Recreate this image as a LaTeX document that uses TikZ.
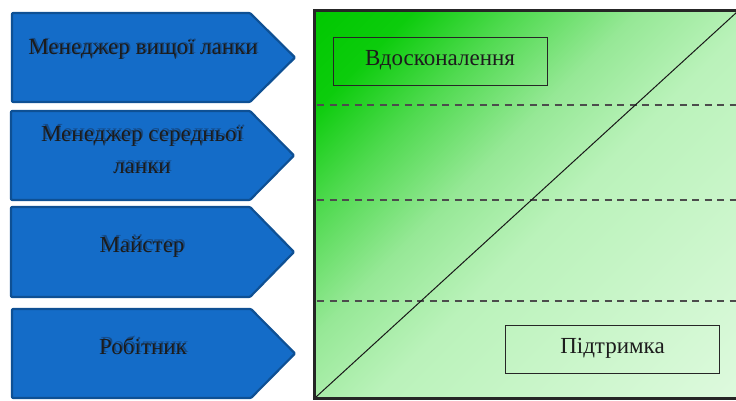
\documentclass[tikz,border=0pt]{standalone}
\usepackage{fontspec}
\setmainfont{Liberation Serif}
\definecolor{arrowfill}{RGB}{20,108,200}
\definecolor{arrowedge}{RGB}{14,80,148}
\definecolor{txt}{RGB}{28,28,28}
\definecolor{shadowcol}{RGB}{20,35,60}
\definecolor{g0}{RGB}{0,200,0}
\definecolor{g05}{RGB}{12,204,12}
\definecolor{g1}{RGB}{80,218,80}
\definecolor{g2}{RGB}{150,232,150}
\definecolor{g3}{RGB}{186,242,186}
\definecolor{g4}{RGB}{222,250,222}
\pgfdeclarehorizontalshading{greenfade}{100bp}{color(0bp)=(g0); color(14.64bp)=(g0); color(23.1bp)=(g05); color(32.3bp)=(g1); color(42.9bp)=(g2); color(53.5bp)=(g3); color(85.36bp)=(g4); color(100bp)=(g4)}
\newcommand{\arrowlabel}[4]{%
  \node[arrowtext, text=shadowcol, opacity=0.45] at ([xshift=1.5pt,yshift=1.5pt]#2,#3) {#4};
  \node[arrowtext] (#1) at (#2,#3) {#4};}
\begin{document}
\begin{tikzpicture}[x=1pt,y=-1pt,
  arrowshape/.style={fill=arrowfill, draw=arrowedge, line width=2.2pt, rounded corners=1pt, line join=round},
  arrowtext/.style={font=\fontsize{23}{32}\selectfont, text=txt, anchor=base, align=center, inner sep=0pt},
  labelbox/.style={draw=black!85, line width=0.9pt, font=\fontsize{23}{28}\selectfont, text=txt, minimum width=214pt, minimum height=48pt, text height=14pt, text depth=5pt, inner sep=0pt},
  sepline/.style={draw=black!70, line width=1.3pt, dash pattern=on 7pt off 5.5pt},
  diag/.style={draw=black!90, line width=1pt},
  frame/.style={draw=black!85, line width=3pt}]
\useasboundingbox (0,0) rectangle (736,401);
\clip (0,0) rectangle (736,401);
% arrows
\path[arrowshape] (12,13) -- (250,13) -- (295,57.5) -- (250,102) -- (12,102) -- cycle;
\path[arrowshape] (11,111) -- (250,111) -- (294,155.5) -- (250,200) -- (11,200) -- cycle;
\path[arrowshape] (11,207) -- (250,207) -- (294,252) -- (250,297) -- (11,297) -- cycle;
\path[arrowshape] (12,309) -- (251,309) -- (295,353.5) -- (251,398) -- (12,398) -- cycle;
\arrowlabel{top}{143}{55}{Менеджер вищої ланки}
\arrowlabel{mid}{142}{173}{Менеджер середньої\\ланки}
\arrowlabel{mst}{142}{252}{Майстер}
\arrowlabel{wrk}{143}{354}{Робітник}
% right panel
\shade[shading=greenfade, shading angle=-45] (314.5,10.5) rectangle (739,398.5);
\coordinate (d1l) at (317,105); \coordinate (d1r) at (737,105);
\coordinate (d2l) at (317,200); \coordinate (d2r) at (737,200);
\coordinate (d3l) at (317,301); \coordinate (d3r) at (737,301);
\draw[sepline] (d1l) -- (d1r);
\draw[sepline] (d2l) -- (d2r);
\draw[sepline] (d3l) -- (d3r);
\coordinate (bl) at (316,397);
\coordinate (tr) at (737,12);
\draw[diag] (bl) -- (tr);
\node[labelbox] (improve) at (440,61) {Вдосконалення};
\node[labelbox] (support) at (612.5,349) {Підтримка};
\draw[frame] (314.5,10.5) rectangle (740,398.5);
\end{tikzpicture}
\end{document}
